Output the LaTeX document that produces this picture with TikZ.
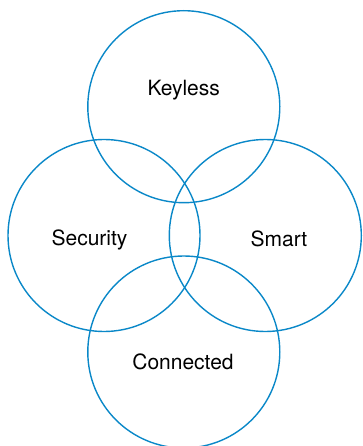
\documentclass[tikz,border=0pt]{standalone}
\usepackage{fontspec}
\setmainfont{TeX Gyre Heros}
\definecolor{ringblue}{RGB}{10,136,200}
\tikzset{
	ring/.style={draw=ringblue, line width=1.4pt},
	tag/.style={font=\fontsize{21}{25}\selectfont, text=black}
}

\begin{document}
\begin{tikzpicture}[x=1pt, y=-1pt]
	\useasboundingbox (0,0) rectangle (362,446);
	\draw [ring] (183.8,106.7) circle (96);
	\draw [ring] (104,235.5) circle (96);
	\draw [ring] (265.3,235.5) circle (96);
	\draw [ring] (183.8,352) circle (96);
	\node [tag] (keyless) at (183.7,90.5) {Keyless};
	\node [tag] (security) at (89.5,239.5) {Security};
	\node [tag] (smart) at (279,238.5) {Smart};
	\node [tag] (connected) at (183,361.5) {Connected};
\end{tikzpicture}
\end{document}
